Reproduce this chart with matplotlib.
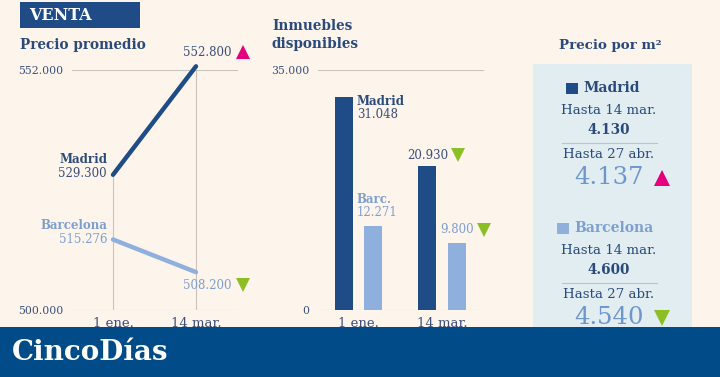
import matplotlib
matplotlib.use("Agg")
import matplotlib.pyplot as plt
import matplotlib.transforms as mtransforms
from matplotlib.patches import Rectangle
from matplotlib.lines import Line2D

# datos
fechas = ["1 ene.", "14 mar."]
precio_madrid = [529300, 552800]
precio_barcelona = [515276, 508200]
precio_ticks = [500000, 552000]
inmuebles_madrid = [31048, 20930]
inmuebles_barcelona = [12271, 9800]
inmuebles_ticks = [0, 35000]
m2_periodos = ["Hasta 14 mar.", "Hasta 27 abr."]
m2_madrid = [4130, 4137]
m2_barcelona = [4600, 4540]

W, H = 720, 377
FONDO = "#fdf4eb"
AZUL = "#1f4c86"
CELESTE = "#8fb0dd"
TXT_CEL = "#7d9fd0"
TITULO = "#2a4a7c"
NUM = "#3b4f78"
GRID = "#c9c3bd"
ROSA = "#e4007c"
VERDE = "#8cbf26"
SERIF = "DejaVu Serif"


def miles(v):
    return f"{v:,}".replace(",", ".")


def fx(x):
    return x / W


def fy(y):
    return 1 - y / H


def caja(x0, y0, x1, y1):
    return [x0 / W, 1 - y1 / H, (x1 - x0) / W, (y1 - y0) / H]


def flecha(ax, x, y, dx, dy, sube):
    tr = mtransforms.offset_copy(ax.transData, fig=fig, x=dx, y=dy, units="dots")
    ax.plot([x], [y], marker="^" if sube else "v", ms=10.5, mew=0,
            color=ROSA if sube else VERDE, transform=tr, clip_on=False)


def flecha_fig(x, y, sube):
    fig.add_artist(Line2D([fx(x)], [fy(y)], marker="^" if sube else "v", ms=12, mew=0,
                          color=ROSA if sube else VERDE, transform=fig.transFigure))


def etiqueta(ax, txt, xy, dx, dy, color, ha, bold=False):
    ax.annotate(txt, xy, xytext=(dx, dy), textcoords="offset pixels", ha=ha, va="center",
                color=color, fontsize=8.5, fontweight="bold" if bold else "normal",
                family=SERIF, annotation_clip=False)


def limpiar(ax):
    ax.set_facecolor("none")
    for s in ax.spines.values():
        s.set_visible(False)
    ax.tick_params(length=0, labelcolor=NUM)
    for lab in ax.get_yticklabels():
        lab.set_fontfamily(SERIF)
        lab.set_fontsize(7.8)
    for lab in ax.get_xticklabels():
        lab.set_fontfamily(SERIF)
        lab.set_fontsize(9.5)


fig = plt.figure(figsize=(W / 100, H / 100), dpi=100, facecolor=FONDO)

# cabecera
fig.add_artist(Rectangle((fx(20), fy(28)), 120 / W, 26 / H, color=AZUL, transform=fig.transFigure, lw=0))
fig.text(fx(29), fy(15), "VENTA", color="white", fontsize=11.5, fontweight="bold",
         family=SERIF, va="center")

# ---- precio promedio
fig.text(fx(20), fy(45), "Precio promedio", color=TITULO, fontsize=9.8, fontweight="bold",
         family=SERIF, va="center")
ax1 = fig.add_axes(caja(72, 70, 238, 310))
ax1.set_xlim(-41 / 83, 125 / 83)
ax1.set_ylim(precio_ticks[0], precio_ticks[1])
xs = list(range(len(fechas)))
for t in precio_ticks:
    ax1.axhline(t, color=GRID, lw=0.8, zorder=0)
tope = [max(a, b) for a, b in zip(precio_madrid, precio_barcelona)]
ax1.vlines(xs, precio_ticks[0], tope, color=GRID, lw=0.8, zorder=0)
ax1.plot(xs, precio_madrid, color=AZUL, lw=3.2, solid_capstyle="round", clip_on=False)
ax1.plot(xs, precio_barcelona, color=CELESTE, lw=3.2, solid_capstyle="round", clip_on=False)
ax1.set_yticks(precio_ticks, [miles(t) for t in precio_ticks])
ax1.set_xticks(xs, fechas)
ax1.tick_params(axis="y", pad=6)
ax1.tick_params(axis="x", pad=5)
limpiar(ax1)

etiqueta(ax1, "Madrid", (0, precio_madrid[0]), -6, 15, TITULO, "right", True)
etiqueta(ax1, miles(precio_madrid[0]), (0, precio_madrid[0]), -6, 1, NUM, "right")
etiqueta(ax1, "Barcelona", (0, precio_barcelona[0]), -6, 14, TXT_CEL, "right", True)
etiqueta(ax1, miles(precio_barcelona[0]), (0, precio_barcelona[0]), -6, 0, TXT_CEL, "right")
etiqueta(ax1, miles(precio_madrid[1]), (1, precio_madrid[1]), 35, 14, NUM, "right")
flecha(ax1, 1, precio_madrid[1], 47, 14, precio_madrid[1] > precio_madrid[0])
etiqueta(ax1, miles(precio_barcelona[1]), (1, precio_barcelona[1]), 36, -13, TXT_CEL, "right")
flecha(ax1, 1, precio_barcelona[1], 47, -13, precio_barcelona[1] > precio_barcelona[0])

# ---- inmuebles disponibles
fig.text(fx(272), fy(26), "Inmuebles", color=TITULO, fontsize=9.8, fontweight="bold",
         family=SERIF, va="center")
fig.text(fx(272), fy(44), "disponibles", color=TITULO, fontsize=9.8, fontweight="bold",
         family=SERIF, va="center")
ax2 = fig.add_axes(caja(318, 70, 484, 310))
ax2.set_xlim(-40.5 / 83.5, 125.5 / 83.5)
ax2.set_ylim(inmuebles_ticks[0], inmuebles_ticks[1])
for t in inmuebles_ticks:
    ax2.axhline(t, color=GRID, lw=0.8, zorder=0)
off, ancho = 0.177, 0.215
xm = [x - off for x in xs]
xb = [x + off for x in xs]
ax2.bar(xm, inmuebles_madrid, width=ancho, color=AZUL, zorder=2)
ax2.bar(xb, inmuebles_barcelona, width=ancho, color=CELESTE, zorder=2)
ax2.set_yticks(inmuebles_ticks, [miles(t) for t in inmuebles_ticks])
ax2.set_xticks(xs, fechas)
ax2.tick_params(axis="y", pad=6)
ax2.tick_params(axis="x", pad=5)
limpiar(ax2)

etiqueta(ax2, "Madrid", (xm[0] + ancho / 2, inmuebles_madrid[0]), 4, -4, TITULO, "left", True)
etiqueta(ax2, miles(inmuebles_madrid[0]), (xm[0] + ancho / 2, inmuebles_madrid[0]), 4, -17, NUM, "left")
etiqueta(ax2, "Barc.", (xb[0] - ancho / 2, inmuebles_barcelona[0]), -8, 26, TXT_CEL, "left", True)
etiqueta(ax2, miles(inmuebles_barcelona[0]), (xb[0] - ancho / 2, inmuebles_barcelona[0]), -8, 13, TXT_CEL, "left")
etiqueta(ax2, miles(inmuebles_madrid[1]), (xm[1] + ancho / 2, inmuebles_madrid[1]), 12, 11, NUM, "right")
flecha(ax2, xm[1] + ancho / 2, inmuebles_madrid[1], 22, 11, inmuebles_madrid[1] > inmuebles_madrid[0])
etiqueta(ax2, miles(inmuebles_barcelona[1]), (xb[1] + ancho / 2, inmuebles_barcelona[1]), 8, 13, TXT_CEL, "right")
flecha(ax2, xb[1] + ancho / 2, inmuebles_barcelona[1], 18, 13, inmuebles_barcelona[1] > inmuebles_barcelona[0])

# ---- precio por m2
fig.text(fx(610), fy(45), "Precio por m²", color=TITULO, fontsize=9.6, fontweight="bold",
         family=SERIF, ha="center", va="center")
fig.add_artist(Rectangle((fx(533), fy(377)), (692 - 533) / W, (377 - 64) / H, color="#e1edf1",
                         lw=0, transform=fig.transFigure, zorder=0.5))


def bloque(y0, ciudad, vals, col_cuadro, col_txt, col_big, xq):
    fig.add_artist(Rectangle((fx(xq), fy(y0 + 6)), 12 / W, 11 / H, color=col_cuadro, lw=0,
                             transform=fig.transFigure))
    fig.text(fx(xq + 17), fy(y0), ciudad, color=col_txt, fontsize=10, fontweight="bold",
             family=SERIF, va="center")
    fig.text(fx(609), fy(y0 + 22), m2_periodos[0], color=TITULO, fontsize=9.6, family=SERIF,
             ha="center", va="center")
    fig.text(fx(609), fy(y0 + 42), miles(vals[0]), color=TITULO, fontsize=9.8, fontweight="bold",
             family=SERIF, ha="center", va="center")
    fig.add_artist(Line2D([fx(562), fx(657)], [fy(y0 + 55)] * 2, color="#b9c4cc", lw=0.8,
                          transform=fig.transFigure))
    fig.text(fx(609), fy(y0 + 67), m2_periodos[1], color=TITULO, fontsize=9.6, family=SERIF,
             ha="center", va="center")
    fig.text(fx(609), fy(y0 + 90), miles(vals[1]), color=col_big, fontsize=17.5, family=SERIF,
             ha="center", va="center")
    flecha_fig(662, y0 + 90, vals[1] > vals[0])


bloque(88, "Madrid", m2_madrid, AZUL, TITULO, "#6d96cc", 566)
bloque(228, "Barcelona", m2_barcelona, CELESTE, TXT_CEL, "#6d96cc", 557)

# ---- banda inferior
fig.add_artist(Rectangle((0, 0), 1, 50 / H, color="#004b88", lw=0, transform=fig.transFigure, zorder=10))
fig.text(fx(12), fy(352), "CincoDías", color="white", fontsize=20, fontweight="bold", family=SERIF,
         va="center", zorder=11)

fig.savefig("out.png", dpi=100, facecolor=FONDO)
